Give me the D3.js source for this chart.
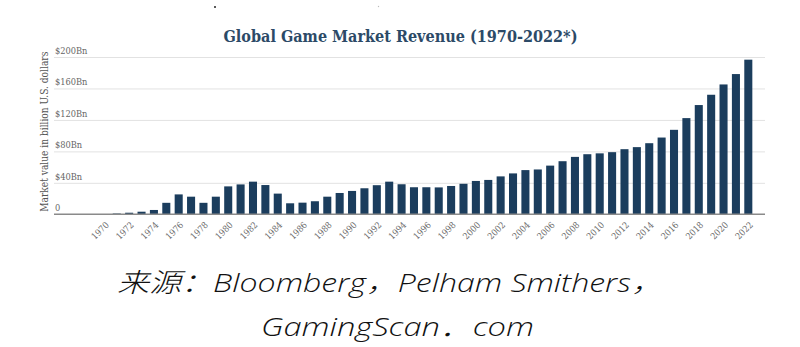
<!DOCTYPE html>
<html>
<head>
<meta charset="utf-8">
<script src="https://cdn.jsdelivr.net/npm/d3@7"></script>
<style>
  html, body { margin: 0; padding: 0; background: #ffffff; }
  svg { display: block; }
</style>
</head>
<body>
<script>
// ---- data ----
const years = [1970,1971,1972,1973,1974,1975,1976,1977,1978,1979,
  1980,1981,1982,1983,1984,1985,1986,1987,1988,1989,
  1990,1991,1992,1993,1994,1995,1996,1997,1998,1999,
  2000,2001,2002,2003,2004,2005,2006,2007,2008,2009,
  2010,2011,2012,2013,2014,2015,2016,2017,2018,2019,
  2020,2021,2022];
const revenue = [0,1.0,2.0,3.3,5.5,14.6,25.3,22.4,14.6,22.4,
  35.5,38.0,41.5,37.2,26.3,14.0,14.8,16.6,22.4,27.1,
  29.7,33.1,37.0,41.5,38.2,34.4,34.4,34.2,36.0,38.8,
  42.4,43.7,48.2,52.0,56.2,57.0,61.9,67.5,73.0,76.4,
  77.5,79.0,82.8,85.4,90.4,97.6,107.4,122.3,138.9,152.0,
  165.1,178.3,196.6];
const yTicks = [0, 40, 80, 120, 160, 200];
const yTickLabels = ["0", "$40Bn", "$80Bn", "$120Bn", "$160Bn", "$200Bn"];
const xTickYears = [1970,1972,1974,1976,1978,1980,1982,1984,1986,1988,1990,1992,1994,1996,1998,
  2000,2002,2004,2006,2008,2010,2012,2014,2016,2018,2020,2022];
const titleText = "Global Game Market Revenue (1970-2022*)";
const yTitleText = "Market value in billion U.S. dollars";
const captionLines = ["来源：Bloomberg，Pelham Smithers，", "GamingScan．com"];

// ---- drawing ----
const W = 800, H = 347;
const svg = d3.select("body").append("svg").attr("width", W).attr("height", H);
svg.append("rect").attr("width", W).attr("height", H).attr("fill", "#ffffff");

const serif = "'DejaVu Serif Condensed', 'DejaVu Serif', serif";

const x = d3.scaleBand().domain(years).range([98.2, 754.5]).paddingInner(0.35).paddingOuter(0.175);
const y = d3.scaleLinear().domain([0, 200]).range([214.3, 57]);
const gridLeft = 54, gridRight = 765;

// tiny specks at the top of the screenshot
svg.append("circle").attr("cx", 215).attr("cy", 7).attr("r", 1).attr("fill", "#222");
svg.append("circle").attr("cx", 378.5).attr("cy", 6.5).attr("r", 0.7).attr("fill", "#bbb");

// title
svg.append("text")
  .attr("x", 223.5).attr("y", 41.5)
  .attr("textLength", 354).attr("lengthAdjust", "spacingAndGlyphs")
  .attr("font-family", serif).attr("font-weight", "bold")
  .attr("font-size", 16).attr("fill", "#2c4a67")
  .text(titleText);

// y gridlines + labels via axis
const yAxis = d3.axisRight(y).tickValues(yTicks)
  .tickSize(gridRight - gridLeft)
  .tickFormat((d, i) => yTickLabels[i]);
const gy = svg.append("g").attr("transform", `translate(${gridLeft},0)`).call(yAxis);
gy.select(".domain").remove();
gy.selectAll(".tick line").attr("stroke", "#e2e2e2").attr("stroke-width", 1)
  .filter(d => d === 0).remove();
gy.selectAll(".tick text")
  .attr("x", 1).attr("dy", -3.5).attr("text-anchor", "start")
  .attr("font-family", serif).attr("font-size", 9.2).attr("fill", "#666");

// y axis title
svg.append("text")
  .attr("transform", `translate(47.5,${131.7}) rotate(-90)`)
  .attr("text-anchor", "middle")
  .attr("textLength", 160).attr("lengthAdjust", "spacingAndGlyphs")
  .attr("font-family", serif).attr("font-size", 10.5).attr("fill", "#555")
  .text(yTitleText);

// bars
svg.append("g").selectAll("rect").data(years).join("rect")
  .attr("x", d => x(d))
  .attr("width", x.bandwidth())
  .attr("y", (d, i) => y(revenue[i]))
  .attr("height", (d, i) => y(0) - y(revenue[i]))
  .attr("fill", "#1b3d5d");

// baseline
svg.append("line").attr("x1", gridLeft).attr("x2", gridRight)
  .attr("y1", y(0)).attr("y2", y(0))
  .attr("stroke", "#8a8a8a").attr("stroke-width", 1.5);

// x axis labels
const xAxis = d3.axisBottom(x).tickValues(xTickYears).tickSize(0);
const gx = svg.append("g").attr("transform", `translate(0,${y(0)})`).call(xAxis);
gx.select(".domain").remove();
gx.selectAll(".tick text")
  .attr("transform", "translate(3,9) rotate(-45)")
  .attr("x", 0).attr("y", 0).attr("dy", "0.35em")
  .attr("text-anchor", "end")
  .attr("font-family", serif).attr("font-size", 9).attr("fill", "#6a6a6a");

// caption
const capFont = "'Open Sans', 'Noto Sans', 'Noto Sans CJK SC', sans-serif";
svg.append("text").attr("x", 117).attr("y", 291.5)
  .attr("textLength", 546).attr("lengthAdjust", "spacingAndGlyphs")
  .attr("font-family", capFont).attr("font-style", "italic").attr("font-weight", 300)
  .attr("font-size", 26.5).attr("fill", "#111")
  .text(captionLines[0]);
svg.append("text").attr("x", 261).attr("y", 335.5)
  .attr("textLength", 273).attr("lengthAdjust", "spacingAndGlyphs")
  .attr("font-family", capFont).attr("font-style", "italic").attr("font-weight", 300)
  .attr("font-size", 26.5).attr("fill", "#111")
  .text(captionLines[1]);
</script>
</body>
</html>
